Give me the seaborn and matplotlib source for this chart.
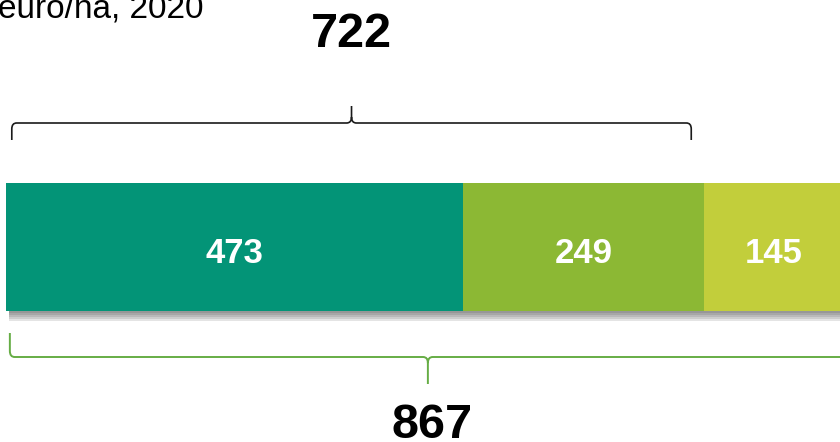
import numpy as np
import pandas as pd
import matplotlib
matplotlib.use('Agg')
import matplotlib.pyplot as plt
import matplotlib.patheffects as pe
from matplotlib.path import Path
from matplotlib.patches import PathPatch
import seaborn as sns

# Date
segmente = ['seg1', 'seg2', 'seg3']
valori = [473, 249, 145]
culori = ['#039477', '#8CB834', '#C2CE3B']
titlu = 'euro/ha, 2020'

sns.set_theme(style='white')
plt.rcParams['font.family'] = ['Liberation Sans', 'DejaVu Sans']

W, H = 840, 442
fig = plt.figure(figsize=(W / 100, H / 100), dpi=100)

x_lo, x_hi = -6.2, 862.9
bar_top, bar_bot = 183, 311

# bara stivuita (barele cumulative desenate de la cea mai lunga)
ax = fig.add_axes([0, (H - bar_bot) / H, 1, (bar_bot - bar_top) / H])
cum = np.cumsum(valori)
umbra = [pe.SimplePatchShadow(offset=(2, -dy), shadow_rgbFace='#333333', alpha=0.13)
         for dy in (1.5, 3, 4.5, 6, 7.5)] + [pe.Normal()]
for i, (total, col) in enumerate(reversed(list(zip(cum, culori)))):
    df = pd.DataFrame({'cat': ['x'], 'val': [total]})
    n0 = len(ax.patches)
    sns.barplot(data=df, x='val', y='cat', color=col, width=1, saturation=1,
                orient='h', linewidth=0, ax=ax)
    for p in ax.patches[n0:]:
        p.set_clip_on(False)
        if i == 0:
            p.set_path_effects(umbra)
ax.set_xlim(x_lo, x_hi)
ax.set_ylim(0.5, -0.5)
ax.set_axis_off()

# etichete in bare
starts = np.concatenate([[0], cum[:-1]])
for s, v in zip(starts, valori):
    ax.text(s + v / 2, 0.125, f'{v}', ha='center', va='baseline', color='white',
            fontsize=25, fontweight='bold')

# strat pentru acolade si totaluri (y in pixeli)
ov = fig.add_axes([0, 0, 1, 1])
ov.set_xlim(x_lo, x_hi)
ov.set_ylim(H, 0)
ov.set_axis_off()
ov.patch.set_alpha(0)


def acolada(a, x0, x1, y, dc, dt, r, color, lw):
    xm = (x0 + x1) / 2
    rc = 6 * np.sign(dc)
    rt = 6 * np.sign(dt)
    verts = [(x0, y + dc), (x0, y + rc), (x0, y), (x0 + r, y),
             (xm - r, y), (xm, y), (xm, y + rt), (xm, y + dt),
             (xm, y + rt), (xm, y), (xm + r, y),
             (x1 - r, y), (x1, y), (x1, y + rc), (x1, y + dc)]
    codes = [Path.MOVETO, Path.LINETO, Path.CURVE3, Path.CURVE3,
             Path.LINETO, Path.CURVE3, Path.CURVE3, Path.LINETO,
             Path.MOVETO, Path.CURVE3, Path.CURVE3,
             Path.LINETO, Path.CURVE3, Path.CURVE3, Path.LINETO]
    a.add_patch(PathPatch(Path(verts, codes), fill=False, edgecolor=color,
                          linewidth=lw, capstyle='butt'))
    return xm


total_sus = valori[0] + valori[1]
total = sum(valori)

xm_sus = acolada(ov, 6, total_sus - 13, 123, 17, -17, 5, '#1a1a1a', 1.2)
ov.text(xm_sus, 47, f'{total_sus}', ha='center', va='baseline', fontsize=35,
        fontweight='bold', color='black')

xm_jos = acolada(ov, 4, total + 2, 357, -24, 27, 5, '#66AD45', 1.4)
ov.text(xm_jos + 4, 438, f'{total}', ha='center', va='baseline', fontsize=35,
        fontweight='bold', color='black')

fig.text(-2 / W, 1 - 17 / H, titlu, ha='left', va='baseline', fontsize=24,
         color='black')

fig.savefig('out.png', dpi=100)
